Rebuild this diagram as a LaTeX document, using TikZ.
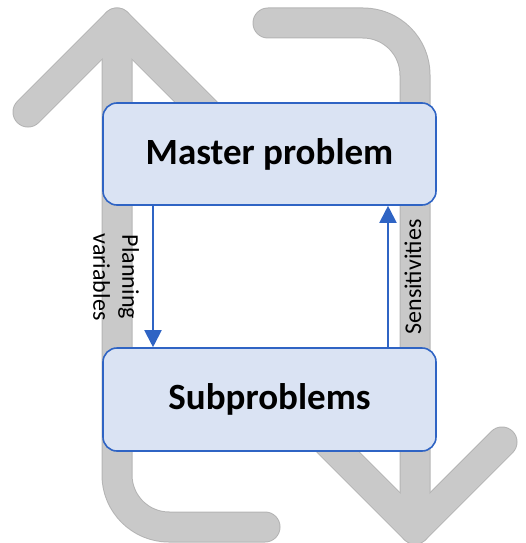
\documentclass[tikz,border=0pt]{standalone}
\usepackage{fontspec}
\setmainfont{Carlito}
\usetikzlibrary{arrows.meta}
\definecolor{loopgrey}{HTML}{C9C9C9}
\definecolor{loopedge}{HTML}{B4B4B4}
\definecolor{boxfill}{HTML}{DAE3F3}
\definecolor{boxline}{HTML}{2F64C4}
\begin{document}
\begin{tikzpicture}[x=1pt,y=-1pt,
  loopout/.style={draw=loopedge, line width=31pt, line cap=round, line join=round},
  loopin/.style={draw=loopgrey, line width=29pt, line cap=round, line join=round},
  stage/.style={draw=boxline, fill=boxfill, line width=1.6pt, rounded corners=14pt,
    minimum width=333pt, inner sep=0pt, font=\bfseries\fontsize{37}{44}\selectfont},
  flow/.style={draw=boxline, line width=2pt, -{Triangle[width=17pt,length=17pt]}},
  flowlabel/.style={font=\fontsize{24}{29}\selectfont, align=center, inner sep=0pt}]

\useasboundingbox (0,0) rectangle (526,543);

% cycle arrows in the background
\coordinate (lstart) at (265,527);
\coordinate (lcorner) at (117,527);
\coordinate (ltip) at (117,23);
\coordinate (larmL) at (28,112);
\coordinate (larmR) at (206,112);
\coordinate (rstart) at (268,23);
\coordinate (rcorner) at (415,23);
\coordinate (rtip) at (415,529);
\coordinate (rarmL) at (328,442);
\coordinate (rarmR) at (502,442);

\foreach \s in {loopout,loopin}{
  \draw[\s, rounded corners=52pt] (lstart) -- (lcorner) -- (ltip);
  \draw[\s] (larmL) -- (ltip) -- (larmR);
  \draw[\s, rounded corners=52pt] (rstart) -- (rcorner) -- (rtip);
  \draw[\s] (rarmL) -- (rtip) -- (rarmR);
}

% the two stages
\node[stage, minimum height=102pt] (master) at (269.5,154) {Master problem};
\node[stage, minimum height=103pt] (sub) at (269.5,399.5) {Subproblems};

% information flow between the stages
\draw[flow] ([xshift=-116.5pt]master.south) -- ([xshift=-116.5pt]sub.north);
\draw[flow] ([xshift=118.5pt]sub.north) -- ([xshift=118.5pt]master.south);

\node[flowlabel, rotate=-90] (plan) at (116,277) {Planning\\variables};
\node[flowlabel, rotate=90] (sens) at (413,277) {Sensitivities};
\end{tikzpicture}
\end{document}
